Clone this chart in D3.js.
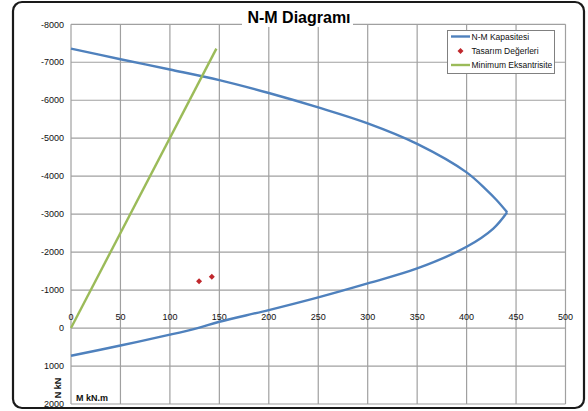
<!DOCTYPE html>
<html><head><meta charset="utf-8">
<script src="https://cdn.jsdelivr.net/npm/d3@7"></script>
<style>body{margin:0;background:#fff}svg{display:block;font-family:"Liberation Sans",Arial,sans-serif}</style>
</head><body>
<svg id="c" width="588" height="411"></svg>
<script>
// N-M capacity curve (M kN.m, N kN), upper branch then lower branch
const capM = [0, 50, 100, 150, 200, 250, 300, 350, 400, 420, 430, 441, 427, 400, 350, 300, 250, 200, 150, 128, 100, 50, 0];
const capN = [-7360, -7080, -6810, -6530, -6190, -5810, -5390, -4850, -4100, -3640, -3380, -3050, -2620, -2140, -1570, -1176, -808, -474, -166, 0, 175, 460, 730];
const peakIndex = 11;
// design values
const designM = [129.5, 142.4];
const designN = [-1235, -1352];
// minimum eccentricity line
const eccM = [0, 147];
const eccN = [0, -7360];
const xTicks = [0, 50, 100, 150, 200, 250, 300, 350, 400, 450, 500];
const yTicks = [-8000, -7000, -6000, -5000, -4000, -3000, -2000, -1000, 0, 1000, 2000];
const seriesNames = ["N-M Kapasitesi", "Tasarım Değerleri", "Minimum Eksantrisite"];
const colors = ["#4F81BD", "#C0282D", "#9BBB59"];

const svg = d3.select("#c");
// outer frame
svg.append("rect").attr("x", 13).attr("y", 2).attr("width", 571).attr("height", 406)
  .attr("rx", 9).attr("fill", "#fff").attr("stroke", "#1a1a1a").attr("stroke-width", 2.2);

const x = d3.scaleLinear().domain([0, 500]).range([71, 565.5]);
const y = d3.scaleLinear().domain([-8000, 2000]).range([24.3, 404]);

// grid
const g = svg.append("g");
g.selectAll(".vx").data(xTicks).join("line")
  .attr("x1", d => x(d)).attr("x2", d => x(d)).attr("y1", y(-8000)).attr("y2", y(2000))
  .attr("stroke", "#A0A0A0").attr("stroke-width", 1.2);
g.selectAll(".hy").data(yTicks).join("line")
  .attr("y1", d => y(d)).attr("y2", d => y(d)).attr("x1", x(0)).attr("x2", x(500))
  .attr("stroke", "#A0A0A0").attr("stroke-width", 1.2);

// y tick labels
svg.append("g").selectAll("text").data(yTicks).join("text")
  .attr("x", 64).attr("y", d => y(d) + 3.2).attr("text-anchor", "end")
  .attr("font-size", 9).attr("fill", "#111").text(d => d);
// x tick labels (at N=0 axis)
svg.append("g").selectAll("text").data(xTicks).join("text")
  .attr("x", d => x(d)).attr("y", y(0) - 8.5).attr("text-anchor", "middle")
  .attr("font-size", 9).attr("fill", "#111").text(d => d);

// series
const pts = capM.map((m, i) => [m, capN[i]]);
const line = d3.line().x(d => x(d[0])).y(d => y(d[1])).curve(d3.curveCatmullRom.alpha(0.5));
svg.append("path").attr("d", line(pts.slice(0, peakIndex + 1)))
  .attr("fill", "none").attr("stroke", colors[0]).attr("stroke-width", 2.4);
svg.append("path").attr("d", line(pts.slice(peakIndex)))
  .attr("fill", "none").attr("stroke", colors[0]).attr("stroke-width", 2.4);

const eline = d3.line().x(d => x(d[0])).y(d => y(d[1]));
svg.append("path").attr("d", eline(eccM.map((m, i) => [m, eccN[i]])))
  .attr("fill", "none").attr("stroke", colors[2]).attr("stroke-width", 2.4);

const marker = d3.symbol().type(d3.symbolSquare).size(18);
svg.append("g").selectAll("path").data(designM.map((m, i) => [m, designN[i]])).join("path")
  .attr("transform", d => `translate(${x(d[0])},${y(d[1])}) rotate(45)`)
  .attr("d", marker).attr("fill", colors[1]);

// title
svg.append("rect").attr("x", 242).attr("y", 8).attr("width", 111).attr("height", 19).attr("fill", "#fff");
svg.append("text").attr("x", 299).attr("y", 23).attr("text-anchor", "middle")
  .attr("font-size", 16).attr("font-weight", "bold").attr("fill", "#000").text("N-M Diagramı");

// legend
const lg = svg.append("g");
lg.append("rect").attr("x", 447.5).attr("y", 30.5).attr("width", 107).attr("height", 43)
  .attr("fill", "#fff").attr("stroke", "#808080").attr("stroke-width", 1);
const ly = [36.5, 51, 65];
seriesNames.forEach((n, i) => {
  if (i === 1) {
    lg.append("path").attr("transform", `translate(460.5,${ly[i]}) rotate(45)`).attr("d", marker).attr("fill", colors[1]);
  } else {
    lg.append("line").attr("x1", 451).attr("x2", 470).attr("y1", ly[i]).attr("y2", ly[i])
      .attr("stroke", colors[i]).attr("stroke-width", 2.4);
  }
  lg.append("text").attr("x", 471.5).attr("y", ly[i] + 3).attr("font-size", 8.5).attr("fill", "#111").text(n);
});

// axis titles
svg.append("text").attr("transform", "translate(60.5,388) rotate(-90)").attr("text-anchor", "middle")
  .attr("font-size", 9).attr("font-weight", "bold").attr("fill", "#111").text("N kN");
svg.append("text").attr("x", 76).attr("y", 400.5).attr("font-size", 9).attr("font-weight", "bold")
  .attr("fill", "#111").text("M kN.m");
</script>
</body></html>
